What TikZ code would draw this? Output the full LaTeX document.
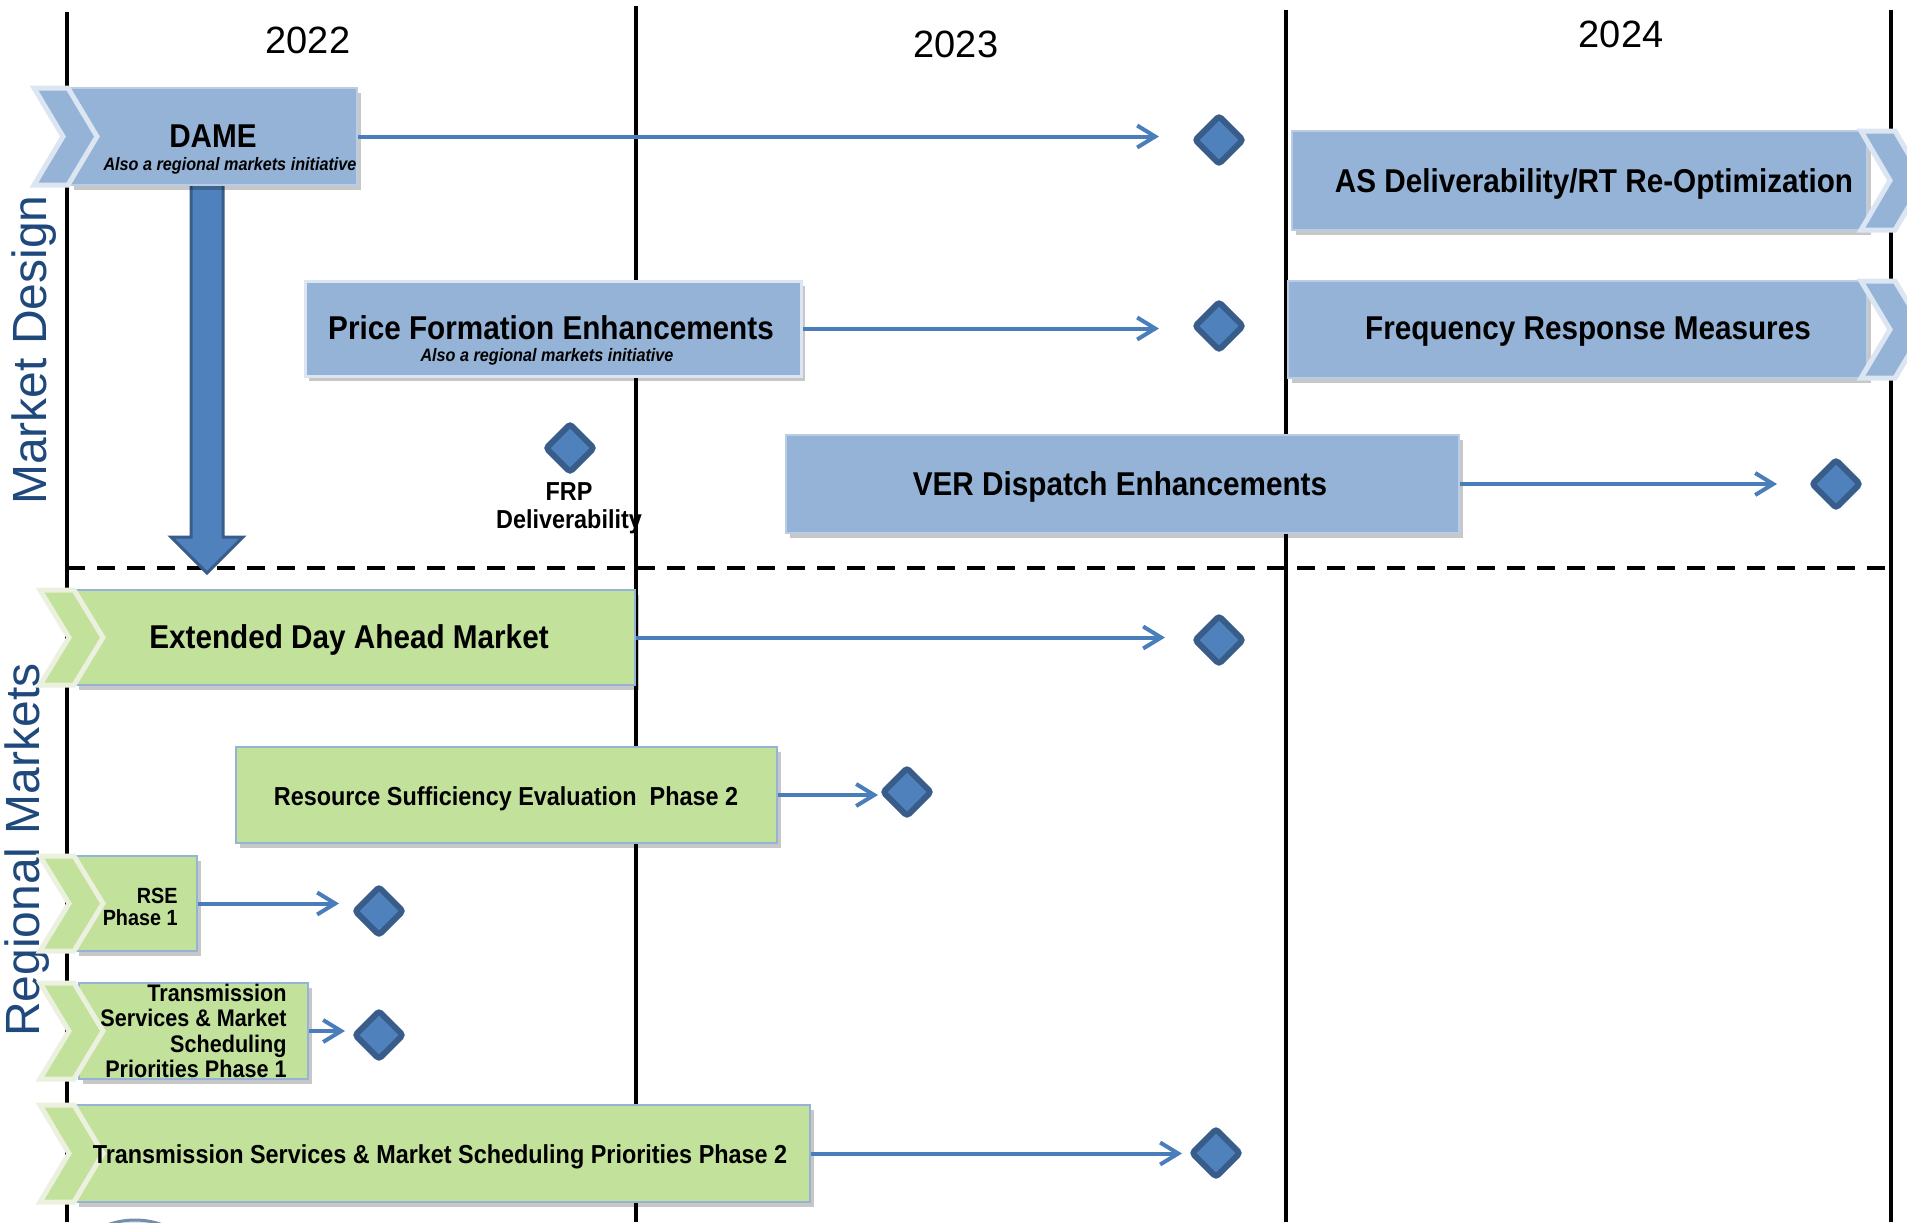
\documentclass[tikz,border=0pt]{standalone}
\usepackage{fontspec}
\setmainfont{Liberation Sans}
\newfontfamily\nar{Liberation Sans}[FakeStretch=0.9]
\usetikzlibrary{shapes.geometric,arrows.meta,shadows}
\definecolor{boxblue}{HTML}{95B3D7}
\definecolor{boxblueedge}{HTML}{B9CDE5}
\definecolor{chevblue}{HTML}{DCE6F2}
\definecolor{boxgreen}{HTML}{C2E19B}
\definecolor{chevgreen}{HTML}{EBF1DE}
\definecolor{linkblue}{HTML}{4A7EBB}
\definecolor{msfill}{HTML}{4F81BD}
\definecolor{msdraw}{HTML}{385D8A}
\definecolor{sidetext}{HTML}{1F497D}
\newcommand\mychevron[4]{%
  \draw[#4] (#1,#2) -- ({#1+34},#2) -- ({#1+63},{(#2+#3)/2}) -- ({#1+34},#3) -- (#1,#3) -- ({#1+29},{(#2+#3)/2}) -- cycle;}
\tikzset{
  vline/.style={line width=1.6pt, draw=black},
  sepline/.style={line width=1.6pt, draw=black, dash pattern=on 9pt off 6pt},
  softshadow/.style={drop shadow={shadow xshift=2pt, shadow yshift=-2.5pt, opacity=0.22, fill=black}},
  bluebox/.style={rectangle, inner sep=0, fill=boxblue, draw=boxblueedge, line width=0.8pt, softshadow},
  greenbox/.style={rectangle, inner sep=0, fill=boxgreen, draw=boxblue, line width=0.8pt, softshadow},
  chevb/.style={fill=boxblue, draw=chevblue, line width=2.5pt},
  chevg/.style={fill=boxgreen, draw=chevgreen, line width=2.5pt},
  ms/.style={diamond, aspect=1, minimum width=25pt, minimum height=25pt, inner sep=0, fill=msfill, draw=msdraw, line width=3pt, rounded corners=1.5pt},
  conn/.style={draw=linkblue, line width=2pt, -{Straight Barb[length=9pt,width=11pt]}},
  bigl/.style={font=\nar\bfseries\fontsize{16.5}{19}\selectfont, inner sep=0},
  subl/.style={font=\nar\bfseries\itshape\fontsize{9}{10}\selectfont, inner sep=0},
  medl/.style={font=\nar\bfseries\fontsize{13}{15}\selectfont, inner sep=0},
  tsl/.style={font=\nar\bfseries\fontsize{12}{12.8}\selectfont, inner sep=0, align=right},
  smll/.style={font=\nar\bfseries\fontsize{11}{11}\selectfont, inner sep=0, align=right},
  frpl/.style={font=\nar\bfseries\fontsize{13}{14}\selectfont, inner sep=0, align=center},
  yearl/.style={font=\fontsize{19}{22}\selectfont, inner sep=0},
  sidel/.style={font=\fontsize{24}{28}\selectfont, text=sidetext, rotate=90, inner sep=0},
}
\begin{document}
\begin{tikzpicture}[x=0.5pt,y=-0.5pt]
\useasboundingbox (0,0) rectangle (1907,1222);
\clip (0,0) rectangle (1907,1222);
% grid lines
\draw[vline] (67,12) -- (67,1222);
\draw[vline] (636,6) -- (636,1222);
\draw[vline] (1286,10) -- (1286,1222);
\draw[vline] (1891,10) -- (1891,1222);
\draw[sepline] (67,568) -- (1891,568);
% years
\node[yearl] (y22) at (308,40) {2022};
\node[yearl] (y23) at (956,44) {2023};
\node[yearl] (y24) at (1621,34) {2024};
% side labels
\node[sidel] (lmd) at (34,350) {Market Design};
\node[sidel] (lrm) at (27,850) {Regional Markets};
% small partial element at bottom
\draw[draw=msdraw!70, fill=chevblue, line width=1.5pt] (135,1300) circle (80);
% DAME down arrow
\draw[fill=msfill, draw=msdraw, line width=1.5pt] (191,180) -- (223,180) -- (223,537) -- (243,537) -- (207,573) -- (171,537) -- (191,537) -- cycle;
% boxes
\node[bluebox, minimum width=143.5pt, minimum height=48.5pt] (dame) at (213.5,136.5) {};
\node[bluebox, minimum width=287.5pt, minimum height=49.5pt] (as) at (1579.5,180.5) {};
\node[bluebox, minimum width=289.5pt, minimum height=48.5pt] (freq) at (1577.5,329.5) {};
\node[bluebox, draw=chevblue, line width=1.5pt, minimum width=248pt, minimum height=47.5pt] (pfe) at (553,328.5) {};
\node[bluebox, minimum width=336.5pt, minimum height=49pt] (ver) at (1122.5,484) {};
\node[greenbox, minimum width=280pt, minimum height=47.5pt] (edam) at (355,637.5) {};
\node[greenbox, minimum width=270.5pt, minimum height=48pt] (rse2) at (506.5,795) {};
\node[greenbox, minimum width=61pt, minimum height=47.5pt] (rse1) at (136,903.5) {};
\node[greenbox, minimum width=114.5pt, minimum height=48pt] (ts1) at (193.5,1031) {};
\node[greenbox, minimum width=367.5pt, minimum height=48.5pt] (ts2) at (442.5,1153.5) {};
% chevrons
\mychevron{34}{88}{185}{chevb}
\mychevron{1861}{131}{230}{chevb}
\mychevron{1861}{281}{378}{chevb}
\mychevron{40}{590}{685}{chevg}
\mychevron{40}{856}{951}{chevg}
\mychevron{40}{983}{1079}{chevg}
\mychevron{40}{1105}{1202}{chevg}
% texts
\node[bigl] (tdame) at (213,136) {DAME};
\node[subl] (tdames) at (230,166) {Also a regional markets initiative};
\node[bigl] (tas) at (1594,184) {AS Deliverability/RT Re-Optimization};
\node[bigl] (tfreq) at (1588,332) {Frequency Response Measures};
\node[bigl] (tpfe) at (551,328) {Price Formation Enhancements};
\node[subl] (tpfes) at (547,357) {Also a regional markets initiative};
\node[bigl] (tver) at (1120,487) {VER Dispatch Enhancements};
\node[bigl] (tedam) at (349,640) {Extended Day Ahead Market};
\node[medl] (trse2) at (506,799) {Resource Sufficiency Evaluation\ \ Phase 2};
\node[smll, anchor=east] (trse1) at (178,907) {RSE\\Phase 1};
\node[tsl, anchor=east] (tts1) at (287,1031) {Transmission\\Services \& Market\\Scheduling\\Priorities Phase 1};
\node[medl] (tts2) at (440,1157) {Transmission Services \& Market Scheduling Priorities Phase 2};
\node[frpl] (tfrp) at (569,508) {FRP\\Deliverability};
% milestones
\node[ms] (d1) at (1219,140) {};
\node[ms] (d2) at (1219,326) {};
\node[ms] (d3) at (570,448) {};
\node[ms] (d4) at (1836,484) {};
\node[ms] (d5) at (1219,640) {};
\node[ms] (d6) at (907,792) {};
\node[ms] (d7) at (379,911) {};
\node[ms] (d8) at (379,1035) {};
\node[ms] (d9) at (1216,1153) {};
% connectors
\draw[conn, shorten >=30pt] (dame.east) -- (dame.east -| d1.center);
\draw[conn, shorten >=30pt] (pfe.east) -- (pfe.east -| d2.center);
\draw[conn, shorten >=29.5pt] (ver.east) -- (ver.east -| d4.center);
\draw[conn, shorten >=27pt] (edam.east) -- (edam.east -| d5.center);
\draw[conn, shorten >=14.5pt] (rse2.east) -- (rse2.east -| d6.center);
\draw[conn, shorten >=20pt] (rse1.east) -- (rse1.east -| d7.center);
\draw[conn, shorten >=17pt] (ts1.east) -- (ts1.east -| d8.center);
\draw[conn, shorten >=17pt] (ts2.east) -- (ts2.east -| d9.center);
\end{tikzpicture}
\end{document}
